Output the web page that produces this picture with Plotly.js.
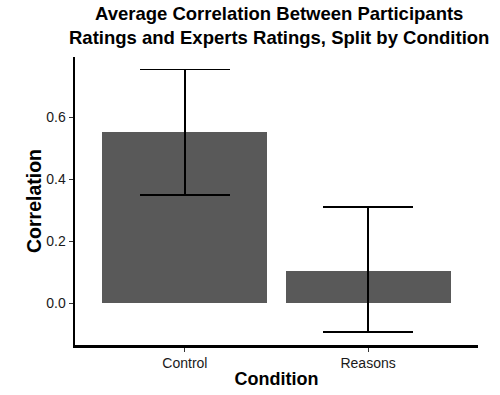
<!DOCTYPE html>
<html>
<head>
<meta charset="utf-8">
<script src="https://cdn.plot.ly/plotly-3.0.1.min.js"></script>
<style>html,body{margin:0;padding:0;background:#fff;}#chart{width:500px;height:395px;}</style>
</head>
<body>
<div id="chart"></div>
<script>
const categories = ["Control", "Reasons"];
const meanCorr = [0.552, 0.106];
const upperCI = [0.754, 0.310];
const lowerCI = [0.350, -0.092];
const yTicks = [0.0, 0.2, 0.4, 0.6];
const chartTitle = 'Average Correlation Between Participants<br>Ratings and Experts Ratings, Split by Condition';

const trace = {
  type: 'bar',
  x: [0, 1],
  y: meanCorr,
  width: 0.9,
  marker: {color: '#595959'},
  error_y: {
    type: 'data',
    symmetric: false,
    array: upperCI.map((u, i) => u - meanCorr[i]),
    arrayminus: meanCorr.map((m, i) => m - lowerCI[i]),
    color: '#000000',
    thickness: 1.5,
    width: 45
  },
  hoverinfo: 'skip'
};

const layout = {
  width: 500, height: 395,
  margin: {l: 75, r: 22, t: 57, b: 50},
  paper_bgcolor: '#ffffff', plot_bgcolor: '#ffffff',
  font: {family: 'Liberation Sans, Arial, sans-serif', color: '#000'},
  annotations: [{
    text: '<b>' + chartTitle + '</b>',
    xref: 'paper', yref: 'paper', x: 0.505, y: 1,
    xanchor: 'center', yanchor: 'bottom', yshift: 7,
    align: 'center', showarrow: false,
    font: {size: 18.5, color: '#000'}
  }],
  xaxis: {
    range: [-0.6, 1.6],
    tickvals: [0, 1], ticktext: categories,
    showline: true, linecolor: '#000', linewidth: 2.5,
    ticks: 'outside', ticklen: 4, tickcolor: '#333', tickwidth: 1,
    showgrid: false, zeroline: false,
    tickfont: {size: 14, color: '#1a1a1a'},
    title: {text: '<b>Condition</b>', font: {size: 18, color: '#000'}, standoff: 2}
  },
  yaxis: {
    range: [-0.134, 0.794],
    tickvals: yTicks, ticktext: yTicks.map(v => v.toFixed(1)),
    showline: true, linecolor: '#000', linewidth: 2.5,
    ticks: 'outside', ticklen: 4, tickcolor: '#333', tickwidth: 1,
    showgrid: false, zeroline: false,
    tickfont: {size: 14, color: '#1a1a1a'},
    title: {text: '<b>Correlation</b>', font: {size: 19.5, color: '#000'}, standoff: 0}
  },
  showlegend: false,
  bargap: 0
};

Plotly.newPlot('chart', [trace], layout, {displayModeBar: false, staticPlot: true});
</script>
</body>
</html>
